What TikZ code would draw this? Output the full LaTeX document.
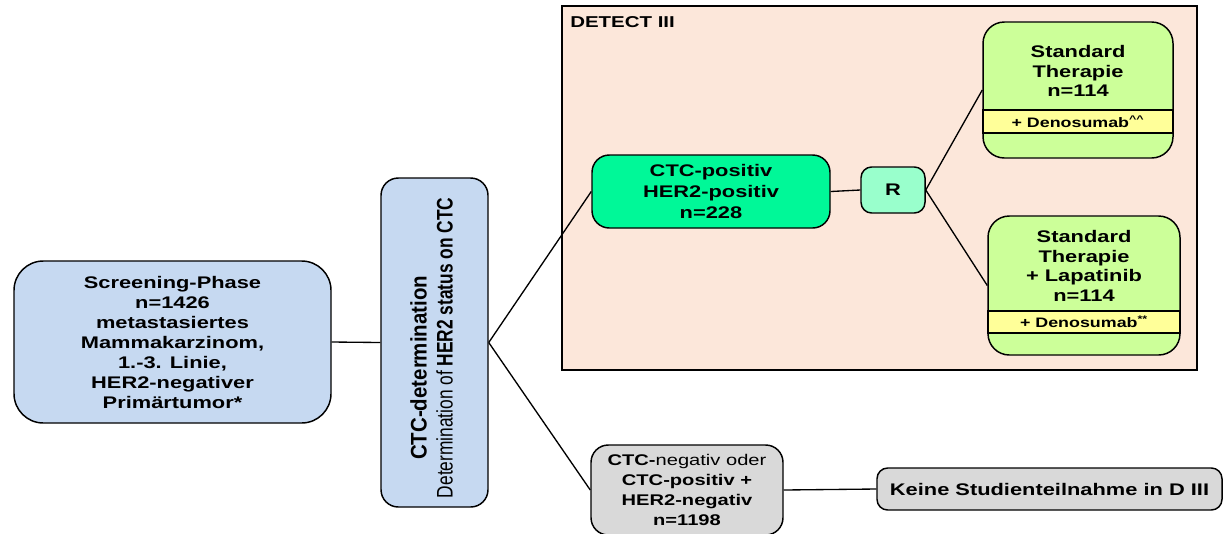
\documentclass[tikz,border=0pt]{standalone}
\usepackage{fontspec}
\setmainfont{Liberation Sans}[FakeStretch=1.3]
\newfontfamily\vertfont{Liberation Sans}
\usepackage{tikz}
\usetikzlibrary{arrows}

\definecolor{screenblue}{RGB}{198,217,241}
\definecolor{detectbg}{RGB}{252,231,218}
\definecolor{posgreen}{RGB}{0,248,152}
\definecolor{randgreen}{RGB}{153,255,204}
\definecolor{stdgreen}{RGB}{204,255,153}
\definecolor{denoyellow}{RGB}{255,255,153}
\definecolor{neggray}{RGB}{217,217,217}

\begin{document}
\begin{tikzpicture}
    [ x=.75pt, y=-.75pt,
      font=\bfseries\fontsize{12.6}{15}\selectfont,
      box/.style={draw, line width=1.1pt, rounded corners=13pt, align=center, inner sep=0pt},
      band/.style={draw, line width=1pt, fill=denoyellow, inner sep=0pt,
                   font=\bfseries\fontsize{10.3}{11}\selectfont},
      link/.style={line width=1pt},
    ]
    \useasboundingbox (0,0) rectangle (1226,533);

    % DETECT III frame
    \draw[line width=1.4pt, fill=detectbg] (562,6) rectangle (1197,370);
    \node[anchor=west, inner sep=0pt, font=\bfseries\fontsize{11.8}{13}\selectfont]
        (detect) at (570,22) {DETECT III};

    \node[box, fill=screenblue, rounded corners=22pt, minimum width=237.75pt, minimum height=121.5pt]
        (screen) at (172.5,342) {Screening-Phase\\n=1426\\metastasiertes\\Mammakarzinom,\\1.-3. Linie,\\HER2-negativer\\Primärtumor*};
    \node[box, fill=screenblue, minimum width=80.25pt, minimum height=246.75pt]
        (ctcdet) at (434.5,342.5) {\rotatebox{90}{\scalebox{1}[1.3]{\vertfont\fontsize{13}{15}\selectfont
            \begin{tabular}{@{}c@{}}
                \hspace*{-38pt}\scalebox{1.18}[1]{\bfseries CTC-determination}\\
                \hspace*{-8pt}\mdseries Determination of \bfseries HER2 status on CTC
            \end{tabular}}}};

    \node[box, fill=posgreen, minimum width=178.5pt, minimum height=54.75pt,
          font=\bfseries\fontsize{12.6}{15.75}\selectfont]
        (ctcpos) at (711,191.5) {CTC-positiv\\HER2-positiv\\n=228};
    \node[box, fill=randgreen, rounded corners=8pt, minimum width=48pt, minimum height=34.5pt]
        (rand) at (893,190) {R};

    % arm 1
    \node[box, fill=stdgreen, rounded corners=16pt, minimum width=142.5pt, minimum height=102pt]
        (std1) at (1078,90) {};
    \node[band, minimum width=142.5pt, minimum height=17.25pt]
        (deno1) at (1078,121.5) {+ Denosumab\textsuperscript{\textasciicircum\textasciicircum}};
    \node[align=center, font=\bfseries\fontsize{12.6}{14.6}\selectfont]
        (std1txt) at (1078,71) {Standard\\Therapie\\n=114};

    % arm 2
    \node[box, fill=stdgreen, rounded corners=16pt, minimum width=144pt, minimum height=104.25pt]
        (std2) at (1084,285.5) {};
    \node[band, minimum width=144pt, minimum height=16.5pt]
        (deno2) at (1084,322) {+ Denosumab\textsuperscript{**}};
    \node[align=center, font=\bfseries\fontsize{12.6}{14.6}\selectfont]
        (std2txt) at (1084,266) {Standard\\Therapie\\+ Lapatinib\\n=114};

    \node[box, fill=neggray, minimum width=144pt, minimum height=67.5pt,
          font=\bfseries\fontsize{11.6}{15}\selectfont]
        (ctcneg) at (687,490) {CTC-{\mdseries negativ oder}\\CTC-positiv +\\HER2-negativ\\n=1198};
    \node[box, fill=neggray, rounded corners=8pt, minimum width=258.75pt, minimum height=31.5pt]
        (keine) at (1049.5,489) {Keine Studienteilnahme in D III};

    \draw[link] (screen.east) -- (ctcdet.west);
    \draw[link] (ctcdet.east) -- (ctcpos.west);
    \draw[link] (ctcdet.east) -- (ctcneg.west);
    \draw[link] (ctcpos.east) -- (rand.west);
    \draw[link] (rand.east) -- (std1.west);
    \draw[link] (rand.east) -- (std2.west);
    \draw[link] (ctcneg.east) -- (keine.west);
\end{tikzpicture}
\end{document}
